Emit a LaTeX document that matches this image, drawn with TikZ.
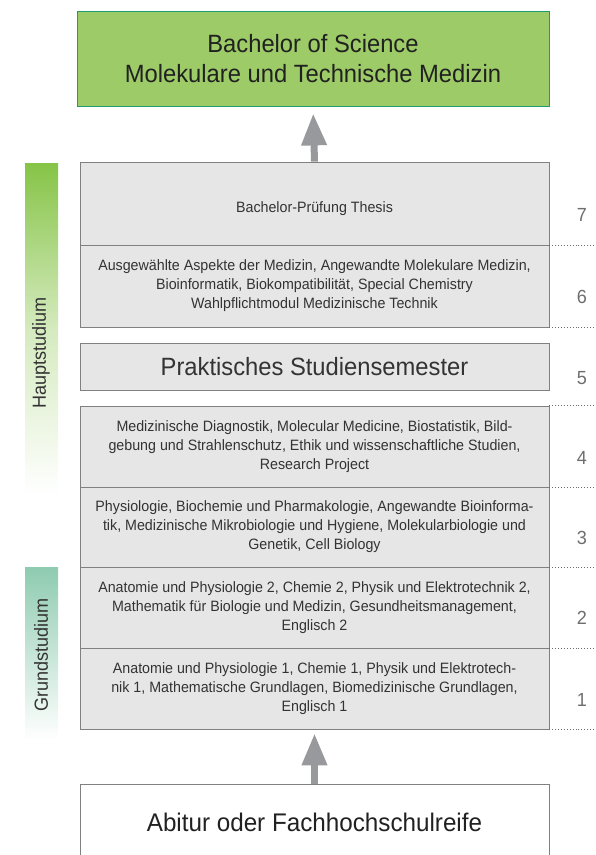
\documentclass[tikz,border=0pt]{standalone}
\usepackage{fontspec}
\setmainfont[FakeStretch=0.95]{Liberation Sans}
\usetikzlibrary{arrows.meta}

\definecolor{titlegreen}{HTML}{9DCB67}
\definecolor{titleedge}{HTML}{1E9C6E}
\definecolor{semfill}{HTML}{E6E6E6}
\definecolor{semedge}{HTML}{808080}
\definecolor{arrowgray}{HTML}{98999C}
\definecolor{textgray}{HTML}{333333}
\definecolor{numgray}{HTML}{6E6E6E}
\definecolor{hauptgreen}{HTML}{86C447}
\definecolor{grundteal}{HTML}{8ECBB0}

\begin{document}
\begin{tikzpicture}[x=1pt, y=-1pt, every node/.style={align=center},
  sembox/.style={draw=semedge, fill=semfill, line width=.8pt, minimum width=469pt,
    inner sep=0pt, text=textgray, font=\fontsize{15}{19}\selectfont},
  semnum/.style={text=numgray, font=\fontsize{19}{22}\selectfont},
  upflow/.style={arrowgray, line width=7pt, -{Triangle[length=32pt,width=24pt]}},
  phase/.style={rotate=90, text=textgray, font=\fontsize{19}{22}\selectfont}]
  \useasboundingbox (0,0) rectangle (596,855);
  \def\sx{314.5}

  % Phase bars on the left, fading out towards the bottom.
  \shade[top color=hauptgreen, bottom color=white, middle color=hauptgreen!35] (25,163) rectangle (58,495);
  \shade[top color=grundteal, bottom color=white] (25,567) rectangle (58,740);
  \node[phase] (haupt) at (41,353) {Hauptstudium};
  \node[phase] (grund) at (41,655) {Grundstudium};

  % Degree and entry requirement
  \node[draw=titleedge, fill=titlegreen, line width=.8pt, minimum width=472pt, minimum height=95pt,
    text=black!87, font=\fontsize{25}{30}\selectfont] (degree) at (313,58.5)
    {Bachelor of Science\\Molekulare und Technische Medizin};
  \node[draw=semedge, fill=white, line width=.8pt, minimum width=469pt, minimum height=82pt,
    text=black!87, font=\fontsize{25.5}{30}\selectfont] (entry) at (\sx,825)
    {\raisebox{6pt}{Abitur oder Fachhochschulreife}};

  % Semesters
  \node[sembox, minimum height=83pt] (sem7) at (\sx,203.5)
    {\raisebox{-8.5pt}[0pt][0pt]{Bachelor-Prüfung Thesis}};
  \node[sembox, minimum height=82pt] (sem6) at (\sx,286)
    {Ausgewählte Aspekte der Medizin, Angewandte Molekulare Medizin,\\
     Bioinformatik, Biokompatibilität, Special Chemistry\\
     Wahlpflichtmodul Medizinische Technik};
  \node[sembox, minimum height=47pt, font=\fontsize{25}{28}\selectfont] (sem5) at (\sx,366.5)
    {Praktisches Studiensemester};
  \node[sembox, minimum height=81pt] (sem4) at (\sx,446.5)
    {Medizinische Diagnostik, Molecular Medicine, Biostatistik, Bild-\\
     gebung und Strahlenschutz, Ethik und wissenschaftliche Studien,\\
     Research Project};
  \node[sembox, minimum height=80pt] (sem3) at (\sx,527)
    {Physiologie, Biochemie und Pharmakologie, Angewandte Bioinforma-\\
     tik, Medizinische Mikrobiologie und Hygiene, Molekularbiologie und\\
     Genetik, Cell Biology};
  \node[sembox, minimum height=81pt] (sem2) at (\sx,607.5)
    {Anatomie und Physiologie 2, Chemie 2, Physik und Elektrotechnik 2,\\
     Mathematik für Biologie und Medizin, Gesundheitsmanagement,\\
     Englisch 2};
  \node[sembox, minimum height=81pt] (sem1) at (\sx,688.5)
    {Anatomie und Physiologie 1, Chemie 1, Physik und Elektrotech-\\
     nik 1, Mathematische Grundlagen, Biomedizinische Grundlagen,\\
     Englisch 1};

  % Semester numbers and dotted separators
  \foreach \n/\y in {7/215,6/297,5/378,4/458,3/538,2/618,1/700}
    \node[semnum] (num\n) at (582,\y) {\n};
  \foreach \b in {sem7.south east,sem6.south east,sem4.north east,sem4.south east,
                  sem3.south east,sem2.south east,sem1.south east}
    \draw[numgray, line width=.9pt, dotted] (\b) -- ++(47,0);

  % Flow arrows
  \draw[upflow, shorten >=7pt] (sem7.north) -- (degree.south);
  \draw[upflow, shorten >=4pt] (entry.north) -- (sem1.south);
\end{tikzpicture}
\end{document}
